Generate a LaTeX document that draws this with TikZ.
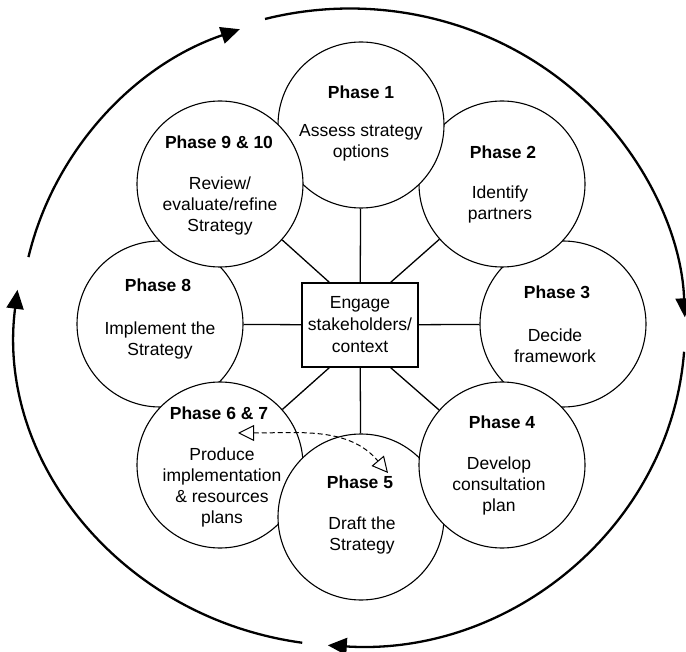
\documentclass[tikz,border=0pt]{standalone}
\usepackage{fontspec}
\setmainfont{Liberation Sans}
\usetikzlibrary{arrows.meta}

\begin{document}
\begin{tikzpicture}[x=1pt,y=-1pt,
  phase/.style={circle,draw,fill=white,line width=1.1pt,minimum size=166pt,inner sep=0pt},
  title/.style={font=\fontsize{17.5}{21}\selectfont\bfseries},
  task/.style={font=\fontsize{17.5}{21}\selectfont,align=center,inner sep=0pt},
  hub/.style={draw,fill=white,line width=1.5pt,minimum width=116pt,minimum height=84pt,
    align=center,font=\fontsize{17.5}{22}\selectfont},
  spoke/.style={line width=1.3pt},
  cycle/.style={line width=2.3pt,-{Triangle[length=19pt,width=17pt]}},
  swap/.style={line width=1pt,dash pattern=on 5pt off 3pt,
    {Triangle[open,length=16pt,width=16pt]}-{Triangle[open,length=16pt,width=16pt]}}]
\useasboundingbox (0,0) rectangle (686,652);

% outer cycle
\coordinate (ring) at (350,328.5);
\draw [cycle] (ring) ++(-167:330 and 317.5) arc [start angle=-167,end angle=-109.5,x radius=330,y radius=317.5];
\draw [cycle] (ring) ++(-104.7:335 and 320) arc [start angle=-104.7,end angle=-2,x radius=335,y radius=320];
\draw [cycle] (ring) ++(4.2:335 and 317.5) arc [start angle=4.2,end angle=93.8,x radius=335,y radius=317.5];
\draw [cycle] (ring) ++(98.2:335 and 317.5) arc [start angle=98.2,end angle=187,x radius=335,y radius=317.5];

% phases (order gives the overlaps)
\node [phase] (p3) at (563,324) {};
\node [phase] (p2) at (502,184) {};
\node [phase] (p1) at (361,125) {};
\node [phase] (p8) at (160,324) {};
\node [phase] (p910) at (220,184) {};
\node [phase] (p67) at (220,465) {};
\node [phase] (p5) at (361,517) {};
\node [phase] (p4) at (502,465) {};

\node [hub] (box) at (360,325) {Engage\\stakeholders/\\context};

% spokes
\draw [spoke] (box) -- (p1);
\draw [spoke] (box) -- (p3);
\draw [spoke] (box) -- (p5);
\draw [spoke] (box) -- (p8);
\draw [spoke] ([xshift=-28pt]box.north east) -- (p2);
\draw [spoke] ([xshift=-28pt]box.south east) -- (p4);
\draw [spoke] ([xshift=28pt]box.south west) -- (p67);
\draw [spoke] ([xshift=28pt]box.north west) -- (p910);

% texts
\node [title] (t1) at (361,92) {Phase 1};
\node [task] (d1) at (361,143) {Assess strategy\\options};
\node [title] (t2) at (503,152) {Phase 2};
\node [task] (d2) at (500,204) {Identify\\partners};
\node [title] (t3) at (557,292) {Phase 3};
\node [task] (d3) at (555,346) {Decide\\framework};
\node [title] (t4) at (502,422) {Phase 4};
\node [task] (d4) at (499,486) {Develop\\consultation\\plan};
\node [title] (t5) at (360,482) {Phase 5};
\node [task] (d5) at (362,535) {Draft the\\Strategy};
\node [title] (t67) at (219,413) {Phase 6 \& 7};
\node [task] (d67) at (222,487) {Produce\\implementation\\\& resources\\plans};
\node [title] (t8) at (158,285) {Phase 8};
\node [task] (d8) at (160,340) {Implement the\\Strategy};
\node [title] (t910) at (219,142) {Phase 9 \& 10};
\node [task] (d910) at (220,206) {Review/\\evaluate/refine\\Strategy};

% link between 6 & 7 and 5
\coordinate (sl) at (238,433);
\coordinate (sr) at (388,473);
\draw [swap] (sl) to [out=0,in=130] (sr);
\end{tikzpicture}
\end{document}
